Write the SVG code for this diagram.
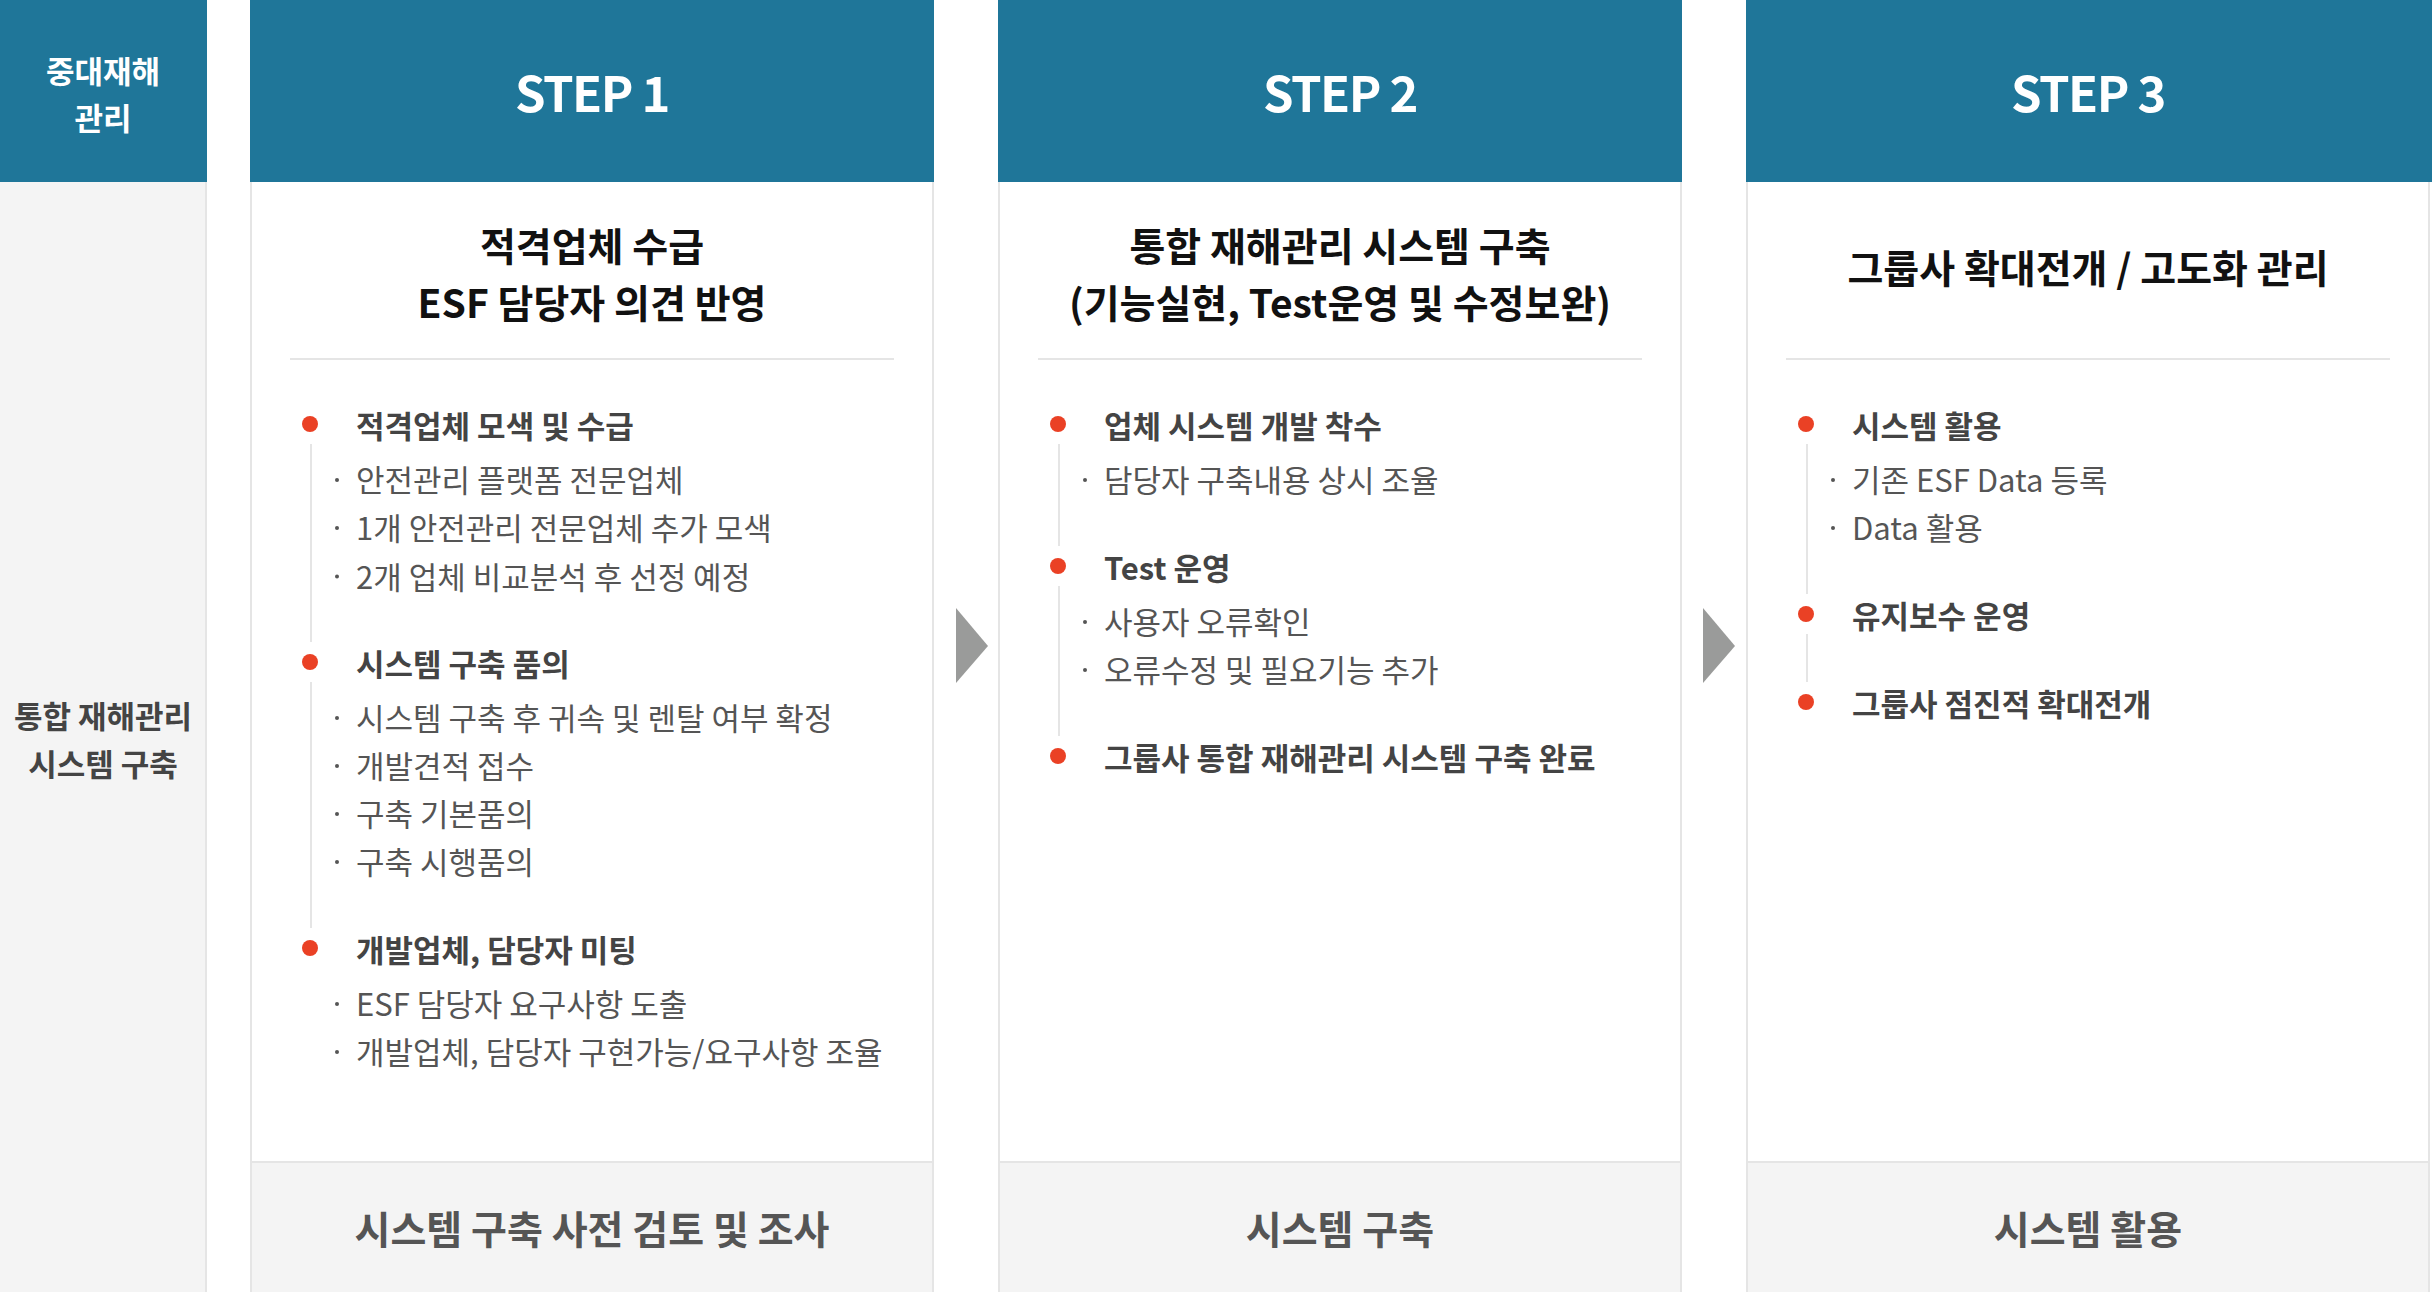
<svg xmlns="http://www.w3.org/2000/svg" width="2432" height="1292" viewBox="0 0 2432 1292">
<style>
  text { font-family: "Noto Sans CJK KR", "Noto Sans", sans-serif; }
  .hd { fill: #1f7699; }
  .body { fill: #ffffff; stroke: #e5e5e5; stroke-width: 2; }
  .foot { fill: #f4f4f4; stroke: #e5e5e5; stroke-width: 2; }
  .side { fill: #f4f4f4; stroke: #e5e5e5; stroke-width: 2; }
  .sep { stroke: #e5e5e5; stroke-width: 2; }
  .vl { stroke: #e5e5e5; stroke-width: 2; }
  .rd { fill: #ea4125; }
  .sd { fill: #555555; }
  .step { font-size: 49px; font-weight: 700; fill: #ffffff; text-anchor: middle; letter-spacing: -1.5px; }
  .lh { font-size: 31px; font-weight: 700; fill: #ffffff; text-anchor: middle; }
  .lb { font-size: 31px; font-weight: 700; fill: #444444; text-anchor: middle; }
  .ttl { font-size: 39px; font-weight: 700; fill: #111111; text-anchor: middle; }
  .bi { font-size: 31px; font-weight: 700; fill: #444444; }
  .si { font-size: 31px; font-weight: 400; fill: #555555; }
  .ft { font-size: 39px; font-weight: 700; fill: #555555; text-anchor: middle; }
  .arr { fill: #9a9b9a; }
</style>

<g id="left-column">
  <rect class="side" x="-1" y="181" width="207" height="1112"/>
  <rect class="hd" x="0" y="0" width="207" height="182"/>
  <text class="lh" x="103" y="82.5">중대재해</text>
  <text class="lh" x="103" y="130">관리</text>
  <text class="lb" x="103" y="728">통합 재해관리</text>
  <text class="lb" x="103" y="776">시스템 구축</text>
</g>

<g id="step1">
  <rect class="body" x="251" y="181" width="682" height="981"/>
  <rect class="foot" x="251" y="1162" width="682" height="131"/>
  <rect class="hd" x="250" y="0" width="684" height="182"/>
  <text class="step" x="592" y="112">STEP 1</text>
  <text class="ttl" x="592" y="261">적격업체 수급</text>
  <text class="ttl" x="592" y="318">ESF 담당자 의견 반영</text>
  <line class="sep" x1="290" y1="359" x2="894" y2="359"/>
  <line class="vl" x1="311" y1="444" x2="311" y2="642"/>
  <line class="vl" x1="311" y1="682" x2="311" y2="928"/>
  <circle class="rd" cx="310" cy="424" r="8"/>
  <circle class="rd" cx="310" cy="662" r="8"/>
  <circle class="rd" cx="310" cy="948" r="8"/>
  <text class="bi" x="356" y="437.5">적격업체 모색 및 수급</text>
  <circle class="sd" cx="337" cy="480" r="2"/>
  <text class="si" x="356" y="491.5">안전관리 플랫폼 전문업체</text>
  <circle class="sd" cx="337" cy="528" r="2"/>
  <text class="si" x="356" y="540">1개 안전관리 전문업체 추가 모색</text>
  <circle class="sd" cx="337" cy="576.5" r="2"/>
  <text class="si" x="356" y="588.5">2개 업체 비교분석 후 선정 예정</text>
  <text class="bi" x="356" y="675.5">시스템 구축 품의</text>
  <circle class="sd" cx="337" cy="718" r="2"/>
  <text class="si" x="356" y="730">시스템 구축 후 귀속 및 렌탈 여부 확정</text>
  <circle class="sd" cx="337" cy="766" r="2"/>
  <text class="si" x="356" y="778">개발견적 접수</text>
  <circle class="sd" cx="337" cy="814" r="2"/>
  <text class="si" x="356" y="826">구축 기본품의</text>
  <circle class="sd" cx="337" cy="862" r="2"/>
  <text class="si" x="356" y="874">구축 시행품의</text>
  <text class="bi" x="356" y="961.5">개발업체, 담당자 미팅</text>
  <circle class="sd" cx="337" cy="1004" r="2"/>
  <text class="si" x="356" y="1016">ESF 담당자 요구사항 도출</text>
  <circle class="sd" cx="337" cy="1052" r="2"/>
  <text class="si" x="356" y="1064">개발업체, 담당자 구현가능/요구사항 조율</text>
  <text class="ft" x="592" y="1244">시스템 구축 사전 검토 및 조사</text>
</g>

<g id="step2">
  <rect class="body" x="999" y="181" width="682" height="981"/>
  <rect class="foot" x="999" y="1162" width="682" height="131"/>
  <rect class="hd" x="998" y="0" width="684" height="182"/>
  <text class="step" x="1340" y="112">STEP 2</text>
  <text class="ttl" x="1340" y="261">통합 재해관리 시스템 구축</text>
  <text class="ttl" x="1340" y="318">(기능실현, Test운영 및 수정보완)</text>
  <line class="sep" x1="1038" y1="359" x2="1642" y2="359"/>
  <line class="vl" x1="1059" y1="444" x2="1059" y2="546"/>
  <line class="vl" x1="1059" y1="586" x2="1059" y2="736"/>
  <circle class="rd" cx="1058" cy="424" r="8"/>
  <circle class="rd" cx="1058" cy="566" r="8"/>
  <circle class="rd" cx="1058" cy="756" r="8"/>
  <text class="bi" x="1104" y="437.5">업체 시스템 개발 착수</text>
  <circle class="sd" cx="1085" cy="480" r="2"/>
  <text class="si" x="1104" y="491.5">담당자 구축내용 상시 조율</text>
  <text class="bi" x="1104" y="579.5">Test 운영</text>
  <circle class="sd" cx="1085" cy="622" r="2"/>
  <text class="si" x="1104" y="634">사용자 오류확인</text>
  <circle class="sd" cx="1085" cy="670" r="2"/>
  <text class="si" x="1104" y="682">오류수정 및 필요기능 추가</text>
  <text class="bi" x="1104" y="769.5">그룹사 통합 재해관리 시스템 구축 완료</text>
  <text class="ft" x="1340" y="1244">시스템 구축</text>
</g>

<g id="step3">
  <rect class="body" x="1747" y="181" width="682" height="981"/>
  <rect class="foot" x="1747" y="1162" width="682" height="131"/>
  <rect class="hd" x="1746" y="0" width="686" height="182"/>
  <text class="step" x="2088" y="112">STEP 3</text>
  <text class="ttl" x="2088" y="283">그룹사 확대전개 / 고도화 관리</text>
  <line class="sep" x1="1786" y1="359" x2="2390" y2="359"/>
  <line class="vl" x1="1807" y1="444" x2="1807" y2="594"/>
  <line class="vl" x1="1807" y1="634" x2="1807" y2="682"/>
  <circle class="rd" cx="1806" cy="424" r="8"/>
  <circle class="rd" cx="1806" cy="614" r="8"/>
  <circle class="rd" cx="1806" cy="702" r="8"/>
  <text class="bi" x="1852" y="437.5">시스템 활용</text>
  <circle class="sd" cx="1833" cy="480" r="2"/>
  <text class="si" x="1852" y="491.5">기존 ESF Data 등록</text>
  <circle class="sd" cx="1833" cy="528" r="2"/>
  <text class="si" x="1852" y="540">Data 활용</text>
  <text class="bi" x="1852" y="627.5">유지보수 운영</text>
  <text class="bi" x="1852" y="715.5">그룹사 점진적 확대전개</text>
  <text class="ft" x="2088" y="1244">시스템 활용</text>
</g>

<g id="connectors">
  <polygon class="arr" points="956,608 988,646 956,683"/>
  <polygon class="arr" points="1703,608 1735,646 1703,683"/>
</g>
</svg>
